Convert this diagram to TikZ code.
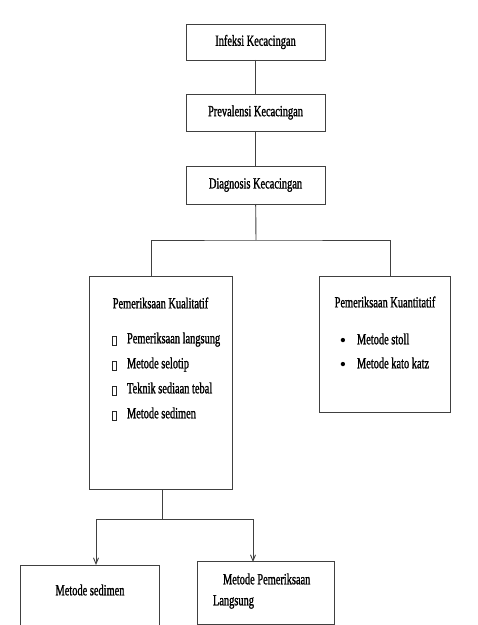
\documentclass[tikz,border=0pt]{standalone}
\usepackage{fontspec}
\setmainfont{Liberation Serif}[FakeStretch=0.67,FakeBold=1.2]
\newfontfamily\bulletfont{Liberation Serif}
\usetikzlibrary{arrows.meta}

\begin{document}
\begin{tikzpicture}[x=1bp,y=-1bp,inner sep=0pt,outer sep=0pt,
    every node/.style={font=\fontsize{15.5bp}{21bp}\selectfont},
    box/.style={draw=black!75,line width=0.9bp,anchor=north west},
    symbox/.style={draw=black!85,line width=0.7bp,minimum width=4bp,minimum height=9.5bp},
    link/.style={draw=black!75,line width=0.9bp},
    arr/.style={link,-{Straight Barb[length=6bp,width=5bp]}}]
    \useasboundingbox (0,0) rectangle (478,625);
    \clip (0,0) rectangle (478,625);
    % 
    \node[box,minimum width=139bp,minimum height=36bp] (infeksi) at (186,24) {Infeksi Kecacingan};
    \node[box,minimum width=139bp,minimum height=37bp] (prev) at (186,94) {Prevalensi Kecacingan};
    \node[box,minimum width=139bp,minimum height=38bp] (diag) at (186,166) {Diagnosis Kecacingan};
    \draw[link] (infeksi) -- (prev);
    \draw[link] (prev) -- (diag);
    % 
    \node[box,minimum width=143bp,minimum height=213bp] (kual) at (89,276) {};
    \node[box,minimum width=131bp,minimum height=136bp] (kuan) at (319,276) {};
    \coordinate (split) at (256,240);
    \coordinate (kual-in) at (151,276);
    \coordinate (kuan-in) at (390,276);
    \draw[link] (diag) -- (split);
    \draw[link] (kual-in) |- (split) -| (kuan-in);
    % 
    \node (kual-title) at (160.5,303) {Pemeriksaan Kualitatif};
    \foreach \kualitem [count=\i] in {Pemeriksaan langsung, Metode selotip, Teknik sediaan tebal, Metode sedimen}
    {
        \node[symbox] (kual-sym-\i) at (114,316+25*\i) {};
        \node[anchor=mid west] (kual-item-\i) at (127,316+25*\i) {\kualitem};
    }
    \node (kuan-title) at (385,302) {Pemeriksaan Kuantitatif};
    \foreach \kuanitem [count=\i] in {Metode stoll, Metode kato katz}
    {
        \node[font=\bulletfont\fontsize{18bp}{20bp}\selectfont] (kuan-sym-\i) at (343,318+24*\i) {•};
        \node[anchor=mid west] (kuan-item-\i) at (357,318+24*\i) {\kuanitem};
    }
    % 
    \node[box,minimum width=139bp,minimum height=80bp] (sed) at (20,565) {};
    \node[box,minimum width=137bp,minimum height=63bp] (lang) at (197,561) {};
    \node (sed-text) at (90,590) {Metode sedimen};
    \node[anchor=mid west] (lang-text-1) at (223,582) {Metode Pemeriksaan};
    \node[anchor=mid west] (lang-text-2) at (213,603) {Langsung};
    \coordinate (kual-out) at (162,489);
    \coordinate (join) at (162,519);
    \coordinate (sed-in) at (96,565);
    \coordinate (lang-in) at (253,562);
    \draw[link] (kual-out) -- (join);
    \draw[arr] (join) -| (sed-in);
    \draw[arr] (join) -| (lang-in);
\end{tikzpicture}
\end{document}
